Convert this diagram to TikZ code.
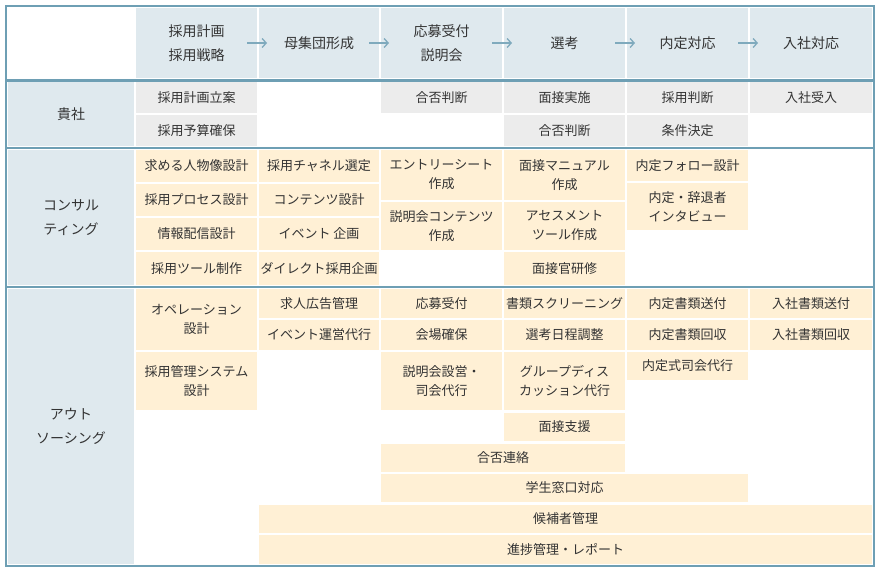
\documentclass[tikz,border=0pt]{standalone}
\usepackage{fontspec}
\setmainfont{Noto Sans CJK JP}
\usetikzlibrary{arrows.meta}
\definecolor{frameC}{HTML}{6E9FB4}
\definecolor{headC}{HTML}{DFE9EE}
\definecolor{grayC}{HTML}{ECECEC}
\definecolor{creamC}{HTML}{FFF0D5}
\definecolor{txtC}{HTML}{333333}
\definecolor{arrC}{HTML}{7FAABD}
\tikzset{
 cellbase/.style={inner sep=0pt,outer sep=0pt,align=center,text=txtC,font=\fontsize{13}{19}\selectfont},
 hd/.style={cellbase,fill=headC,font=\fontsize{14}{24}\selectfont},
 gy/.style={cellbase,fill=grayC},
 cr/.style={cellbase,fill=creamC},
 lb/.style={cellbase,fill=headC,font=\fontsize{14}{24}\selectfont},
 arr/.style={draw=arrC,line width=1.3pt,-{Straight Barb[length=4pt,width=9pt]}},
 frame/.style={draw=frameC,line width=2.5pt}
}
\newcommand\cellbox[7]{\node[#5,minimum width={(#3-#1)*1pt},minimum height={(#4-#2)*1pt}] (#7) at ({(#1+#3)/2},{(#2+#4)/2}) {#6};}
\begin{document}
\begin{tikzpicture}[x=1pt,y=-1pt]
\useasboundingbox (0,0) rectangle (880,570);
% header
\cellbox{136}{8}{257}{78}{hd}{採用計画\\採用戦略}{h1}
\cellbox{259}{8}{379}{78}{hd}{母集団形成}{h2}
\cellbox{381}{8}{502}{78}{hd}{応募受付\\説明会}{h3}
\cellbox{504}{8}{625}{78}{hd}{選考}{h4}
\cellbox{627}{8}{748}{78}{hd}{内定対応}{h5}
\cellbox{750}{8}{872}{78}{hd}{入社対応}{h6}
\draw[arr] ([xshift=-10pt]h1.east) -- ([xshift=8pt]h2.west);
\draw[arr] ([xshift=-10pt]h2.east) -- ([xshift=8pt]h3.west);
\draw[arr] ([xshift=-10pt]h3.east) -- ([xshift=8pt]h4.west);
\draw[arr] ([xshift=-10pt]h4.east) -- ([xshift=8pt]h5.west);
\draw[arr] ([xshift=-10pt]h5.east) -- ([xshift=8pt]h6.west);
% left labels
\cellbox{8}{82}{134}{146}{lb}{貴社}{l1}
\cellbox{8}{150}{134}{285}{lb}{コンサル\\ティング}{l2}
\cellbox{8}{289}{134}{564}{lb}{アウト\\ソーシング}{l3}
% 貴社
\cellbox{136}{82}{257}{113}{gy}{採用計画立案}{a1}
\cellbox{136}{115}{257}{146}{gy}{採用予算確保}{a2}
\cellbox{381}{82}{502}{113}{gy}{合否判断}{a3}
\cellbox{504}{82}{625}{113}{gy}{面接実施}{a4}
\cellbox{504}{115}{625}{146}{gy}{合否判断}{a5}
\cellbox{627}{82}{748}{113}{gy}{採用判断}{a6}
\cellbox{627}{115}{748}{146}{gy}{条件決定}{a7}
\cellbox{750}{82}{872}{113}{gy}{入社受入}{a8}
% consulting
\cellbox{136}{150}{257}{182}{cr}{求める人物像設計}{b1}
\cellbox{136}{184}{257}{216}{cr}{採用プロセス設計}{b2}
\cellbox{136}{218}{257}{250}{cr}{情報配信設計}{b3}
\cellbox{136}{252}{257}{285}{cr}{採用ツール制作}{b4}
\cellbox{259}{150}{379}{182}{cr}{採用チャネル選定}{b5}
\cellbox{259}{184}{379}{216}{cr}{コンテンツ設計}{b6}
\cellbox{259}{218}{379}{250}{cr}{イベント 企画}{b7}
\cellbox{259}{252}{379}{285}{cr}{ダイレクト採用企画}{b8}
\cellbox{381}{150}{502}{200}{cr}{エントリーシート\\作成}{b9}
\cellbox{381}{202}{502}{250}{cr}{説明会コンテンツ\\作成}{b10}
\cellbox{504}{150}{625}{200}{cr}{面接マニュアル\\作成}{b11}
\cellbox{504}{202}{625}{250}{cr}{アセスメント\\ツール作成}{b12}
\cellbox{504}{252}{625}{285}{cr}{面接官研修}{b13}
\cellbox{627}{150}{748}{181}{cr}{内定フォロー設計}{b14}
\cellbox{627}{183}{748}{230}{cr}{内定・辞退者\\インタビュー}{b15}
% outsourcing
\cellbox{136}{289}{257}{350}{cr}{オペレーション\\設計}{c1}
\cellbox{136}{352}{257}{410}{cr}{採用管理システム\\設計}{c2}
\cellbox{259}{289}{379}{318}{cr}{求人広告管理}{c3}
\cellbox{259}{320}{379}{350}{cr}{イベント運営代行}{c4}
\cellbox{381}{289}{502}{318}{cr}{応募受付}{c5}
\cellbox{381}{320}{502}{350}{cr}{会場確保}{c6}
\cellbox{381}{352}{502}{410}{cr}{説明会設営・\\司会代行}{c7}
\cellbox{504}{289}{625}{318}{cr}{書類スクリーニング}{c8}
\cellbox{504}{320}{625}{350}{cr}{選考日程調整}{c9}
\cellbox{504}{352}{625}{410}{cr}{グループディス\\カッション代行}{c10}
\cellbox{504}{413}{625}{441}{cr}{面接支援}{c11}
\cellbox{627}{289}{748}{318}{cr}{内定書類送付}{c12}
\cellbox{627}{320}{748}{350}{cr}{内定書類回収}{c13}
\cellbox{627}{352}{748}{380}{cr}{内定式司会代行}{c14}
\cellbox{750}{289}{872}{318}{cr}{入社書類送付}{c15}
\cellbox{750}{320}{872}{350}{cr}{入社書類回収}{c16}
\cellbox{381}{444}{625}{472}{cr}{合否連絡}{c17}
\cellbox{381}{474}{748}{502}{cr}{学生窓口対応}{c18}
\cellbox{259}{505}{872}{533}{cr}{候補者管理}{c19}
\cellbox{259}{535}{872}{564}{cr}{進捗管理・レポート}{c20}
% frame
\draw[frame] (6,6) rectangle (874,566);
\draw[frame] (6,80.5) -- (874,80.5);
\draw[frame] (6,148) -- (874,148);
\draw[frame] (6,287) -- (874,287);
\end{tikzpicture}
\end{document}
